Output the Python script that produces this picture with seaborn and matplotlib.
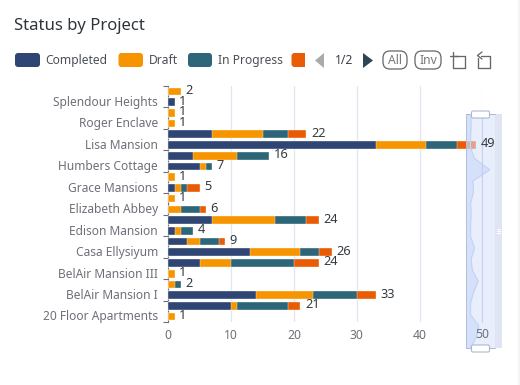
import numpy as np
import seaborn as sns
from matplotlib import pyplot as plt
from matplotlib.patches import FancyBboxPatch, Polygon, Rectangle
from matplotlib.transforms import ScaledTranslation

W, H = 520, 385

projects = ["", "Splendour Heights", "", "Roger Enclave", "", "Lisa Mansion", "",
            "Humbers Cottage", "", "Grace Mansions", "", "Elizabeth Abbey", "",
            "Edison Mansion", "", "Casa Ellysiyum", "", "BelAir Mansion III", "",
            "BelAir Mansion I", "", "20 Floor Apartments"]
completed = [0, 1, 0, 0, 7, 33, 4, 5, 0, 1, 0, 0, 7, 1, 3, 13, 5, 0, 0, 14, 10, 0]
draft = [2, 0, 1, 1, 8, 8, 7, 1, 1, 1, 1, 2, 10, 1, 2, 8, 5, 1, 1, 9, 1, 1]
in_progress = [0, 0, 0, 0, 4, 5, 5, 1, 0, 1, 0, 3, 5, 2, 3, 3, 10, 0, 1, 7, 8, 0]
other = [0, 0, 0, 0, 3, 3, 0, 0, 0, 2, 0, 1, 2, 0, 1, 2, 4, 0, 0, 3, 2, 0]

series_names = ["Completed", "Draft", "In Progress"]
colors = ["#2f4574", "#f79500", "#2d6678", "#ea5c04"]
x_ticks = [0, 10, 20, 30, 40, 50]

GREY = "#6e7079"
TEXT = "#333a40"
ICON = "#666666"

sns.set_theme(style="white")
plt.rcParams["font.family"] = ["Noto Sans", "DejaVu Sans"]

fig = plt.figure(figsize=(W / 100, H / 100), dpi=100, facecolor="white")


def px_axes(left, top, right, bottom, zorder):
    a = fig.add_axes([left / W, 1 - bottom / H, (right - left) / W, (bottom - top) / H], zorder=zorder)
    a.patch.set_alpha(0)
    return a


# main chart, stacked by overdrawing the running totals back to front
ax = px_axes(168.3, 86, 482.3, 322, 1)
rows = list(range(len(projects)))
stack = np.array([completed, draft, in_progress, other]).cumsum(axis=0)
for i in [3, 2, 1, 0]:
    sns.barplot(x=stack[i], y=rows, order=rows, orient="h", color=colors[i], width=0.72,
                saturation=1, ax=ax, zorder=3, edgecolor="white", linewidth=0.25)

ax.set_xlim(0, 50)
ax.set_ylim(len(rows) - 0.5, -0.5)
ax.set_xlabel("")
ax.set_ylabel("")
ax.set_xticks(x_ticks)
# the last tick label goes on the top layer, the slider would wash it out
ax.set_xticklabels([str(t) for t in x_ticks[:-1]] + [""], color=GREY, fontsize=8.8)
ax.set_yticks(rows[1::2])
ax.set_yticklabels(projects[1::2], color=GREY, fontsize=8.6)
ax.set_yticks([r - 0.5 for r in rows[::2]] + [len(rows) - 0.5], minor=True)
ax.tick_params(axis="y", which="major", length=0, pad=7.5)
ax.tick_params(axis="y", which="minor", length=3.6, width=0.8, color=GREY, left=True)
ax.tick_params(axis="x", length=0, pad=5)
ax.grid(axis="x", color="#e0e6f1", linewidth=0.9)
ax.set_axisbelow(True)
sns.despine(ax=ax, top=True, right=True, bottom=True)
ax.spines["left"].set_color(GREY)
ax.spines["left"].set_linewidth(0.8)
for label in ax.get_yticklabels():
    label.set_transform(label.get_transform() + ScaledTranslation(0, 1.2 / 100, fig.dpi_scale_trans))

# chrome layer: title, legend, slider track
top = px_axes(0, 0, W, H, 3)
top.set_xlim(0, W)
top.set_ylim(H, 0)
top.axis("off")
top.add_patch(Rectangle((518, 0), 2, H, facecolor="#f4f4f4", edgecolor="none"))
top.text(14, 26.5, "Status by Project", fontsize=12, fontweight="bold", color="#2f343a", va="center")

for x0, x1, c in [(15, 40, colors[0]), (118.5, 143, colors[1]), (188, 212, colors[2]), (291.5, 316, colors[3])]:
    top.add_patch(FancyBboxPatch((x0 + 2, 55), x1 - x0 - 4, 10, boxstyle="round,pad=2,rounding_size=3",
                                 facecolor=c, edgecolor="none"))
top.add_patch(Rectangle((305, 50), 12, 20, facecolor="white", edgecolor="none"))
for x, name in zip([45, 149, 218], series_names):
    top.text(x, 60.5, name, fontsize=8.7, color="#4a4f55", va="center")

top.add_patch(Polygon([[324, 53], [324, 68], [315, 60.5]], facecolor="#aaaaaa", edgecolor="none"))
top.text(344.5, 60.5, "1/2", fontsize=8.8, color="#3a3f45", va="center", ha="center")
top.add_patch(Polygon([[363, 53], [363, 68], [373, 60.5]], facecolor="#2f4554", edgecolor="none"))
for x0, x1, label in [(383, 407, "All"), (415, 441, "Inv")]:
    top.add_patch(FancyBboxPatch((x0 + 7, 58), x1 - x0 - 14, 4, boxstyle="round,pad=7,rounding_size=7",
                                 facecolor="none", edgecolor=ICON, linewidth=0.9))
    top.text((x0 + x1) / 2, 60.5, label, fontsize=8.8, color="#777777", va="center", ha="center")
# toolbox icons
top.plot([454, 464.5, 464.5], [56, 56, 68], color=ICON, lw=0.95)
top.plot([453, 453, 465], [52, 68, 68], color=ICON, lw=0.95)
top.plot([450, 458], [56, 56], color=ICON, lw=0.95)
top.plot([481, 490, 490, 477.5, 477.5], [56, 56, 68, 68, 58], color=ICON, lw=0.95)
top.plot([482, 477.5, 482], [52, 55.5, 59], color=ICON, lw=0.95)

# slider
top.add_patch(Rectangle((495, 114), 7, 234, facecolor="#e0e5f3", edgecolor="none", zorder=1))
top.add_patch(Rectangle((465.5, 114), 29.5, 234, facecolor="#d6e0fb", edgecolor="none", alpha=0.55, zorder=2))
top.plot([495, 465.5, 465.5, 495], [114, 114, 348, 348], color="#acb8d1", lw=0.7, zorder=2)
top.plot([482.3, 482.3], [114, 322], color="#c8d2ea", lw=0.8, zorder=2)
for y in [229, 231, 233]:
    top.plot([496.8, 499.8], [y, y], color="white", lw=0.8, zorder=3)

# slider data shadow follows the first series
shadow = px_axes(465.5, 114, 495, 348, 4)
shadow.axis("off")
sns.lineplot(x=completed, y=rows, orient="y", sort=False, color="#c4d2f5", linewidth=0.8, ax=shadow)
shadow.fill_betweenx(rows, -8.6, completed, color="#b9ccf8", alpha=0.4, linewidth=0)
shadow.set_xlim(-8.6, 41.8)
shadow.set_ylim(len(rows) - 1, 0)

handles = px_axes(0, 0, W, H, 5)
handles.set_xlim(0, W)
handles.set_ylim(H, 0)
handles.axis("off")
for y in [111.5, 345.5]:
    handles.add_patch(FancyBboxPatch((473, y + 1), 15, 4, boxstyle="round,pad=1.5,rounding_size=1.5",
                                     facecolor="white", edgecolor="#acb8d1", linewidth=0.8))
handles.text(482.3, 335, str(x_ticks[-1]), color=GREY, fontsize=8.8, va="center", ha="center")

# value labels stay readable above the slider
for r, total in zip(rows, stack[3]):
    handles.text(total + 0.75, r - 0.1, str(total), transform=ax.transData, va="center", ha="left",
                 color=TEXT, fontsize=9.2, clip_on=False)

fig.savefig("out.png", dpi=100)
